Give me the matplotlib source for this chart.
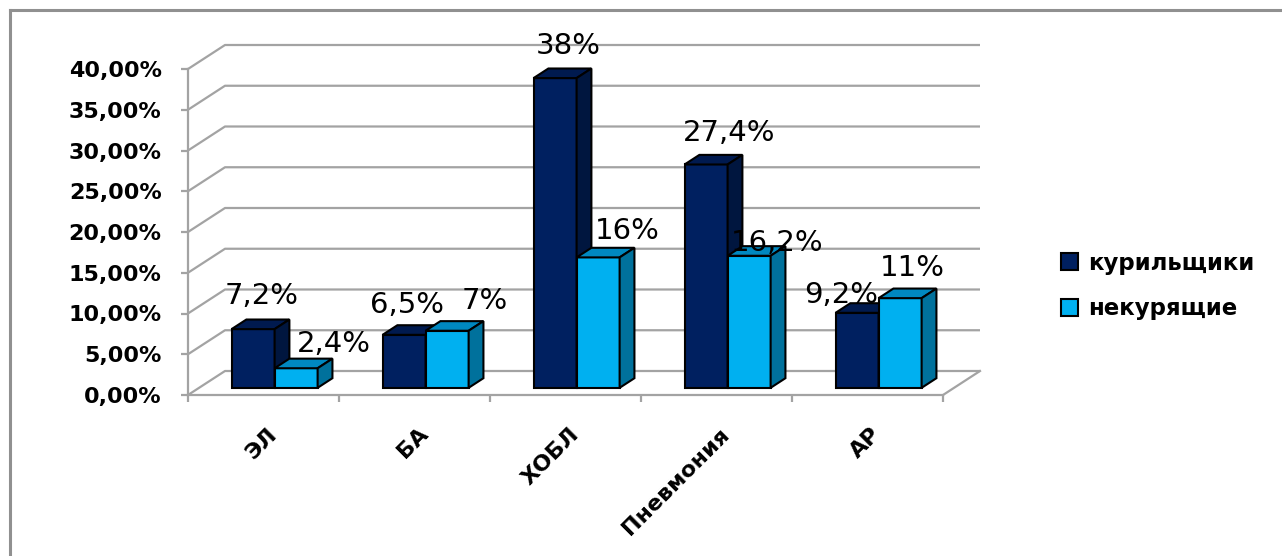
import matplotlib.pyplot as plt
from matplotlib.patches import Polygon, Patch

categories = ["ЭЛ", "БА", "ХОБЛ", "Пневмония", "АР"]
smokers = [7.2, 6.5, 38.0, 27.4, 9.2]
nonsmokers = [2.4, 7.0, 16.0, 16.2, 11.0]
series_names = ["курильщики", "некурящие"]
smoker_labels = ["7,2%", "6,5%", "38%", "27,4%", "9,2%"]
nonsmoker_labels = ["2,4%", "7%", "16%", "16,2%", "11%"]
yticks = [0, 5, 10, 15, 20, 25, 30, 35, 40]
ytick_labels = ["0,00%", "5,00%", "10,00%", "15,00%", "20,00%",
                "25,00%", "30,00%", "35,00%", "40,00%"]

# label nudges in pixels (dx, dy) for each series
smoker_offsets = [(1, 28), (-4, 25), (6, 27), (16, 27), (-23, 13)]
nonsmoker_offsets = [(30, 19), (30, 25), (22, 22), (21, 8), (5, 25)]

# face colours: front, top, side
dark = ("#002060", "#001a4f", "#00163f")
light = ("#00b0f0", "#0088c0", "#00719c")
grid_c = "#a3a3a3"

W, H = 1282, 556
fig = plt.figure(figsize=(W / 100, H / 100), dpi=100)
ax = fig.add_axes([188 / W, 161 / H, 755 / W, 326 / H])
ax.set_xlim(0, 5)
ax.set_ylim(0, 40)

# depth of the 3-D box in data units
DX, DY = 37 / 151, 24 / 8.15
D0, D1 = 0.3, 0.7
bw = 0.285

# back wall gridlines and left wall diagonals
for t in yticks:
    ax.plot([0, DX, 5 + DX], [t, t + DY, t + DY], color=grid_c, lw=1.6,
            clip_on=False, zorder=1, solid_capstyle="butt")
ax.plot([5, 5 + DX], [0, DY], color=grid_c, lw=1.6, clip_on=False, zorder=1)


def bar3d(x0, v, cols):
    fx0, fy0 = x0 + D0 * DX, D0 * DY
    bx0, by0 = x0 + D1 * DX, D1 * DY
    front = [(fx0, fy0), (fx0 + bw, fy0), (fx0 + bw, fy0 + v), (fx0, fy0 + v)]
    top = [(fx0, fy0 + v), (fx0 + bw, fy0 + v), (bx0 + bw, by0 + v), (bx0, by0 + v)]
    side = [(fx0 + bw, fy0), (bx0 + bw, by0), (bx0 + bw, by0 + v), (fx0 + bw, fy0 + v)]
    for pts, c in zip((front, top, side), cols):
        ax.add_patch(Polygon(pts, closed=True, facecolor=c, edgecolor="black",
                             lw=1.5, clip_on=False, zorder=3, joinstyle="miter"))


for i in range(len(categories)):
    for s, (vals, cols, labs, offs) in enumerate([
            (smokers, dark, smoker_labels, smoker_offsets),
            (nonsmokers, light, nonsmoker_labels, nonsmoker_offsets)]):
        x0 = i + 0.5 - bw + s * bw
        bar3d(x0, vals[i], cols)
        ax.annotate(labs[i], xy=(x0 + bw / 2 + 0.5 * DX, vals[i] + 0.5 * DY),
                    xytext=offs[i], textcoords="offset pixels",
                    ha="center", va="center", fontsize=21, color="black",
                    zorder=5, annotation_clip=False)

for side in ("top", "right"):
    ax.spines[side].set_visible(False)
for side in ("left", "bottom"):
    ax.spines[side].set_color(grid_c)
    ax.spines[side].set_linewidth(1.6)

ax.set_yticks(yticks)
ax.set_yticklabels(ytick_labels, fontsize=16, fontweight="bold")
ax.set_xticks(range(6))
ax.set_xticklabels([])
ax.tick_params(axis="both", colors=grid_c, length=5, width=1.6)
ax.tick_params(axis="y", labelcolor="black", pad=14)

for i, name in enumerate(categories):
    ax.annotate(name, xy=(i + 0.5, 0), xytext=(10, -36), textcoords="offset pixels",
                rotation=45, rotation_mode="anchor", ha="right", va="center",
                fontsize=16, fontweight="bold", annotation_clip=False)

handles = [Patch(facecolor=dark[0], edgecolor="black", lw=1.5),
           Patch(facecolor=light[0], edgecolor="black", lw=1.5)]
fig.legend(handles, series_names, loc="center left",
           bbox_to_anchor=(1040 / W, 1 - 286 / H), frameon=False,
           prop={"size": 16.5, "weight": "bold"}, handlelength=0.75,
           handleheight=0.75, handletextpad=0.45, labelspacing=1.0)

# chart frame (only the top and left edges show)
fig.add_artist(plt.Line2D([10 / W, 10 / W], [0, 1 - 10 / H], color="#909090",
                          lw=2.2, transform=fig.transFigure))
fig.add_artist(plt.Line2D([10 / W, 1], [1 - 10 / H, 1 - 10 / H], color="#909090",
                          lw=2.2, transform=fig.transFigure))

fig.savefig("out.png", dpi=100)
